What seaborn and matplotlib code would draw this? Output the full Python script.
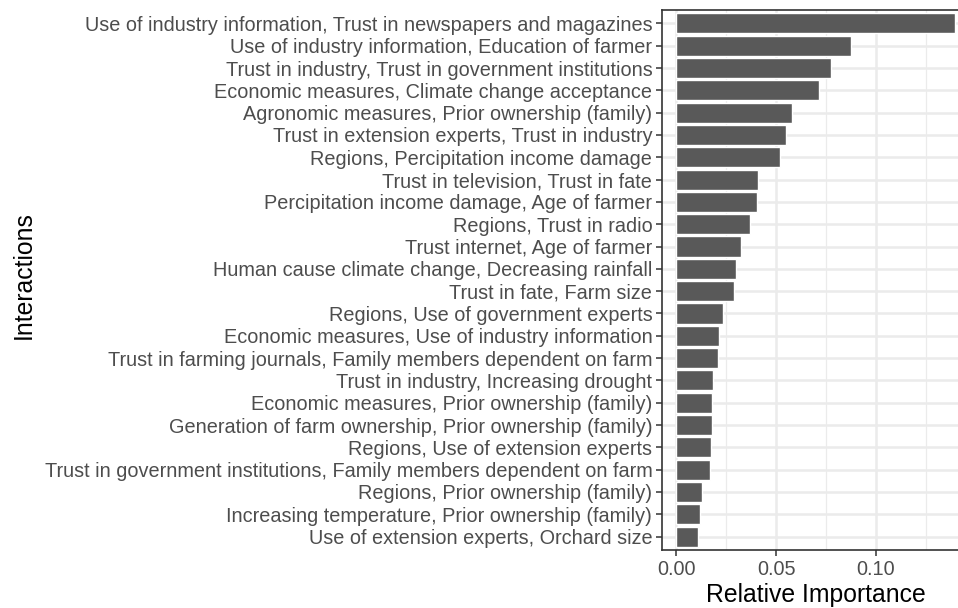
import matplotlib
matplotlib.use("Agg")
import matplotlib.pyplot as plt
from matplotlib.ticker import MultipleLocator
import pandas as pd
import seaborn as sns

interactions = [
    "Use of industry information, Trust in newspapers and magazines",
    "Use of industry information, Education of farmer",
    "Trust in industry, Trust in government institutions",
    "Economic measures, Climate change acceptance",
    "Agronomic measures, Prior ownership (family)",
    "Trust in extension experts, Trust in industry",
    "Regions, Percipitation income damage",
    "Trust in television, Trust in fate",
    "Percipitation income damage, Age of farmer",
    "Regions, Trust in radio",
    "Trust internet, Age of farmer",
    "Human cause climate change, Decreasing rainfall",
    "Trust in fate, Farm size",
    "Regions, Use of government experts",
    "Economic measures, Use of industry information",
    "Trust in farming journals, Family members dependent on farm",
    "Trust in industry, Increasing drought",
    "Economic measures, Prior ownership (family)",
    "Generation of farm ownership, Prior ownership (family)",
    "Regions, Use of extension experts",
    "Trust in government institutions, Family members dependent on farm",
    "Regions, Prior ownership (family)",
    "Increasing temperature, Prior ownership (family)",
    "Use of extension experts, Orchard size",
]
importance = [
    0.1395, 0.0877, 0.0775, 0.0715, 0.0582, 0.0552, 0.0522, 0.0408,
    0.0403, 0.0368, 0.0327, 0.0298, 0.0290, 0.0237, 0.0217, 0.0212,
    0.0187, 0.0182, 0.0182, 0.0175, 0.0172, 0.0128, 0.0122, 0.0112,
]
x_ticks = [0.00, 0.05, 0.10]
x_tick_labels = ["0.00", "0.05", "0.10"]

df = pd.DataFrame({"Interactions": interactions, "Relative Importance": importance})

sns.set_theme(style="white")
plt.rcParams["font.family"] = ["Liberation Sans", "DejaVu Sans"]

fig = plt.figure(figsize=(9.58, 6.08), dpi=100)
W, H = 958, 608
left_px, right_px, top_px, bottom_px = 662, 969, 10, 550
ax = fig.add_axes([left_px / W, 1 - bottom_px / H,
                   (right_px - left_px) / W, (bottom_px - top_px) / H])
ax.set_facecolor("white")

sns.barplot(data=df, y="Interactions", x="Relative Importance", orient="h",
            color="#595959", saturation=1, width=0.9, ax=ax, zorder=3)

ax.set_xlim(-0.007, 0.1465)
ax.set_ylim(len(interactions) - 0.4, -0.6)

# Grid lines in the theme_bw manner
ax.xaxis.set_minor_locator(MultipleLocator(0.025))
ax.set_xticks(x_ticks)
ax.set_xticklabels(x_tick_labels)
ax.grid(which="major", axis="both", color="#EBEBEB", linewidth=1.8, zorder=0)
ax.grid(which="minor", axis="x", color="#EBEBEB", linewidth=0.9, zorder=0)
ax.set_axisbelow(True)

for side in ["left", "bottom", "top", "right"]:
    ax.spines[side].set_visible(True)
    ax.spines[side].set_color("#333333")
    ax.spines[side].set_linewidth(1.2)

ax.tick_params(axis="both", which="major", direction="out", length=4,
               width=1.1, color="#333333", labelcolor="#4D4D4D",
               labelsize=14.3, pad=3)
ax.tick_params(axis="x", which="minor", length=0)
ax.tick_params(left=True, bottom=True)

ax.set_xlabel("Relative Importance", fontsize=17.8, color="black", labelpad=3)
ax.set_ylabel("Interactions", fontsize=17.8, color="black")
ax.yaxis.set_label_coords(-2.04, 0.509)

fig.savefig("out.png", dpi=100)
